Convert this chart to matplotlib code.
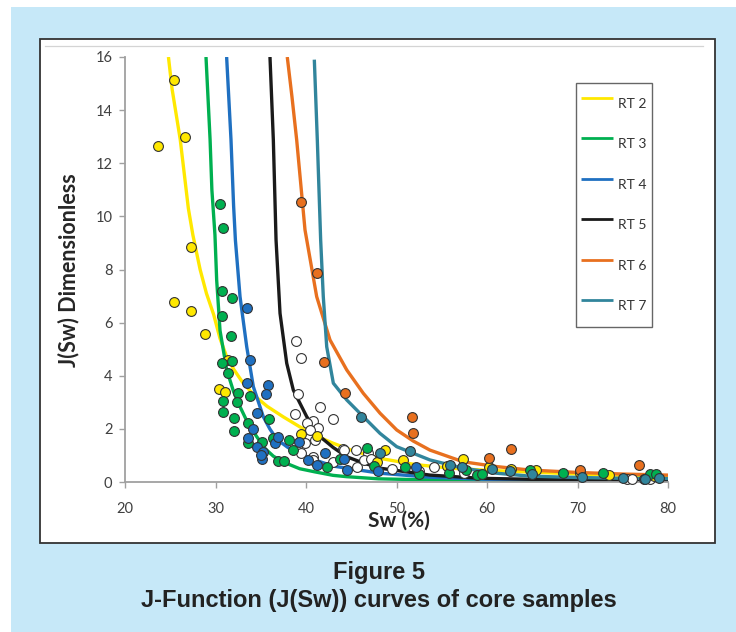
import matplotlib
matplotlib.use("Agg")
import matplotlib.pyplot as plt
from matplotlib.patches import Rectangle
from matplotlib.lines import Line2D

# ---------------- data ----------------
labels = ["RT 2", "RT 3", "RT 4", "RT 5", "RT 6", "RT 7"]
colors = ["#FFE800", "#00B050", "#1F70C1", "#1A1A1A", "#E8701F", "#31859C"]

# fitted J-function curves (Sw %, J)
rt2_sw = [24.8, 25.2, 26.1, 27.0, 27.5, 28.3, 29.0, 29.8, 30.5, 31.2, 32.0, 33.0, 34.3, 35.7, 37.5, 39.3, 41.0, 43.0, 45.0, 48.0, 50.0, 52.0, 56.0, 60.0, 65.0, 70.0, 75.0, 80.0]
rt2_j = [16.0, 14.8, 12.9, 10.3, 9.3, 8.0, 7.1, 6.3, 5.4, 4.75, 4.25, 3.75, 3.25, 2.85, 2.45, 2.08, 1.75, 1.46, 1.2, 0.9, 0.78, 0.66, 0.52, 0.44, 0.37, 0.3, 0.25, 0.2]

rt3_sw = [28.95, 29.4, 29.6, 29.94, 30.13, 30.5, 31.24, 32.0, 32.7, 33.6, 34.55, 35.5, 36.4, 37.1, 38.0, 39.3, 41.0, 43.0, 44.5, 48.0, 52.0, 60.0, 70.0, 80.0]
rt3_j = [16.0, 12.9, 11.0, 9.3, 7.6, 5.7, 4.22, 3.4, 2.84, 2.2, 1.71, 1.25, 0.97, 0.83, 0.68, 0.5, 0.38, 0.25, 0.2, 0.12, 0.09, 0.06, 0.04, 0.03]

rt4_sw = [31.23, 31.71, 32.0, 32.2, 32.71, 33.45, 34.18, 35.28, 36.0, 36.8, 38.0, 39.3, 40.8, 43.0, 44.5, 48.2, 53.7, 60.0, 70.0, 80.0]
rt4_j = [16.0, 12.9, 10.4, 9.1, 6.98, 5.09, 3.59, 2.46, 2.0, 1.6, 1.3, 1.08, 0.85, 0.6, 0.52, 0.33, 0.18, 0.1, 0.07, 0.05]

rt5_sw = [36.02, 36.39, 36.69, 37.13, 37.87, 38.6, 40.08, 41.55, 43.0, 44.5, 46.3, 48.18, 53.7, 59.23, 65.0, 70.0, 80.0]
rt5_j = [16.0, 12.88, 9.11, 6.35, 4.47, 3.46, 2.46, 1.71, 1.3, 0.95, 0.72, 0.52, 0.26, 0.14, 0.1, 0.08, 0.06]

rt6_sw = [37.93, 38.45, 38.97, 39.89, 41.18, 42.65, 44.5, 46.33, 48.18, 50.02, 51.86, 53.7, 57.38, 61.07, 64.75, 70.0, 75.0, 80.0]
rt6_j = [16.0, 14.5, 12.88, 9.49, 6.98, 5.35, 4.22, 3.34, 2.59, 1.96, 1.54, 1.2, 0.76, 0.58, 0.45, 0.36, 0.3, 0.26]

rt7_sw = [40.92, 41.25, 41.62, 41.91, 42.29, 43.02, 44.5, 46.33, 48.18, 50.02, 53.7, 57.38, 61.07, 64.75, 70.0, 75.0, 80.0]
rt7_j = [15.9, 12.88, 9.11, 6.98, 5.09, 3.72, 3.09, 2.46, 1.83, 1.33, 0.83, 0.52, 0.33, 0.22, 0.17, 0.14, 0.13]

# core sample points (Sw %, J)
rt2_pts_sw = [23.7, 25.45, 26.6, 27.3, 25.45, 27.3, 28.8, 30.4, 31.05, 31.4, 39.5, 41.2, 48.7, 50.7, 57.3, 62.7, 65.4, 47.9, 55.6, 60.2, 70.3, 73.5, 78.5]
rt2_pts_j = [12.66, 15.13, 13.0, 8.86, 6.79, 6.45, 5.56, 3.5, 3.38, 4.6, 1.81, 1.74, 1.2, 0.83, 0.85, 0.5, 0.45, 0.75, 0.6, 0.55, 0.35, 0.28, 0.22]

rt3_pts_sw = [30.5, 30.8, 30.68, 31.79, 30.68, 31.71, 30.72, 31.85, 31.35, 32.52, 30.87, 32.33, 33.8, 30.8, 32.08, 33.56, 32.08, 33.63, 35.9, 35.17, 36.4, 38.17, 36.95, 37.6, 38.52, 42.3, 43.76, 46.7, 50.9, 57.7, 64.75, 68.4, 72.8, 78.0, 78.7, 58.9, 59.5, 55.8, 47.5, 52.5]
rt3_pts_j = [10.48, 9.55, 7.2, 6.94, 6.26, 5.51, 4.47, 4.57, 4.12, 3.36, 3.06, 3.0, 3.25, 2.65, 2.4, 2.23, 1.93, 1.46, 2.37, 1.49, 1.64, 1.58, 0.79, 0.79, 1.2, 0.55, 0.85, 1.27, 0.55, 0.45, 0.45, 0.35, 0.33, 0.29, 0.29, 0.26, 0.3, 0.35, 0.6, 0.3]

rt4_pts_sw = [33.48, 33.85, 33.44, 35.84, 35.54, 34.55, 34.1, 33.56, 34.55, 35.28, 35.1, 36.57, 36.9, 39.23, 40.26, 41.17, 42.1, 44.23, 44.5, 48.0, 52.2, 77.3, 35.0]
rt4_pts_j = [6.56, 4.59, 3.74, 3.65, 3.31, 2.61, 1.98, 1.64, 1.33, 1.14, 0.85, 1.46, 1.7, 1.52, 0.83, 0.64, 1.1, 0.87, 0.45, 0.43, 0.58, 0.1, 1.0]

rt6_pts_sw = [39.4, 41.2, 42.0, 44.3, 51.67, 51.8, 62.7, 60.2, 70.3, 76.8]
rt6_pts_j = [10.55, 7.86, 4.51, 3.34, 2.46, 1.83, 1.23, 0.89, 0.45, 0.64]

rt7_pts_sw = [46.1, 51.5, 48.2, 55.9, 57.2, 62.5, 65.0, 70.5, 75.0, 77.5, 79.0, 60.5]
rt7_pts_j = [2.46, 1.18, 1.1, 0.64, 0.55, 0.4, 0.3, 0.2, 0.15, 0.12, 0.15, 0.5]

open_pts_sw = [38.86, 39.45, 39.15, 38.78, 41.55, 42.94, 40.8, 40.07, 41.36, 40.44, 39.9, 41.0, 39.5, 40.8, 42.94, 44.1, 45.5, 46.8, 45.6, 46.4, 54.1, 44.23, 40.8, 47.2, 49.5, 52.5, 57.5, 75.5, 76.0, 78.0]
open_pts_j = [5.32, 4.66, 3.3, 2.56, 2.84, 2.36, 2.31, 2.23, 2.02, 1.96, 1.46, 1.58, 1.08, 0.95, 0.76, 1.24, 1.2, 1.1, 0.58, 0.83, 0.55, 1.2, 0.83, 0.85, 0.5, 0.4, 0.35, 0.1, 0.12, 0.1]

x_ticks = [20, 30, 40, 50, 60, 70, 80]
y_ticks = [0, 2, 4, 6, 8, 10, 12, 14, 16]

# ---------------- figure ----------------
W, H = 736, 632
fig = plt.figure(figsize=(W / 100, H / 100), dpi=100)
fig.patch.set_facecolor("white")

def fx(px):
    return px / W

def fy(py):
    return 1 - py / H

# light-blue panel
fig.patches.append(Rectangle((fx(11), 0), fx(W - 11), 1 - 7 / H, transform=fig.transFigure,
                             facecolor="#C6E8F8", edgecolor="none", zorder=0))
# white chart box
fig.patches.append(Rectangle((fx(39.5), fy(542.5)), fx(715 - 39.5), (542.5 - 38.5) / H,
                             transform=fig.transFigure, facecolor="white", edgecolor="#333333",
                             linewidth=1.3, zorder=1))
fig.lines.append(Line2D([fx(45), fx(703)], [fy(46), fy(46)], transform=fig.transFigure,
                        color="#D4D4D4", linewidth=0.9, zorder=2))

ax = fig.add_axes([fx(125), fy(482), fx(668 - 125), (482 - 57) / H])
ax.set_facecolor("none")
ax.set_zorder(3)

curves = [(rt2_sw, rt2_j), (rt3_sw, rt3_j), (rt4_sw, rt4_j),
          (rt5_sw, rt5_j), (rt6_sw, rt6_j), (rt7_sw, rt7_j)]
handles = []
for (xs, ys), c, lab in zip(curves, colors, labels):
    h, = ax.plot(xs, ys, color=c, linewidth=2.4, solid_capstyle="butt",
                 solid_joinstyle="round", label=lab, zorder=2)
    handles.append(h)

mk = dict(s=50, edgecolors="#333333", linewidths=0.8, zorder=4, clip_on=False)
ax.scatter(open_pts_sw, open_pts_j, facecolors="white", **mk)
ax.scatter(rt2_pts_sw, rt2_pts_j, facecolors=colors[0], **mk)
ax.scatter(rt3_pts_sw, rt3_pts_j, facecolors=colors[1], **mk)
ax.scatter(rt4_pts_sw, rt4_pts_j, facecolors=colors[2], **mk)
ax.scatter(rt6_pts_sw, rt6_pts_j, facecolors=colors[4], **mk)
ax.scatter(rt7_pts_sw, rt7_pts_j, facecolors=colors[5], **mk)

ax.set_xlim(20, 80)
ax.set_ylim(0, 16)
ax.set_xticks(x_ticks)
ax.set_yticks(y_ticks)
ax.set_xticklabels([str(v) for v in x_ticks], fontfamily="Lato", fontsize=10.5, color="#404040")
ax.set_yticklabels([str(v) for v in y_ticks], fontfamily="Lato", fontsize=10.5, color="#404040")
for s in ["top", "right"]:
    ax.spines[s].set_visible(False)
for s in ["left", "bottom"]:
    ax.spines[s].set_color("#A0A0A0")
    ax.spines[s].set_linewidth(1.3)
ax.tick_params(axis="both", direction="out", length=4, width=1.0, color="#A0A0A0")
ax.tick_params(axis="x", pad=10.5)
ax.tick_params(axis="y", pad=5)

leg = ax.legend(handles=handles, loc="upper right", bbox_to_anchor=(0.9705, 0.9395),
                borderaxespad=0, frameon=True, fancybox=False, shadow=False,
                prop={"family": "Lato", "size": 10}, handlelength=2.3, handleheight=3.0,
                handletextpad=0.35, labelspacing=0.72, borderpad=0.4)
leg.get_frame().set_edgecolor("#404040")
leg.get_frame().set_linewidth(1.0)
for t in leg.get_texts():
    t.set_color("#333333")
for ln in leg.get_lines():
    ln.set_linewidth(2.0)

fig.text(fx(69), fy(270), "J(Sw) Dimensionless", rotation=90, ha="center", va="center",
         fontfamily="Lato", fontweight="bold", fontsize=15.5, color="#262626")
fig.text(fx(399), fy(521), "Sw (%)", ha="center", va="center",
         fontfamily="Lato", fontweight="bold", fontsize=15, color="#262626")

fig.text(fx(379), fy(572), "Figure 5", ha="center", va="center",
         fontfamily="Liberation Sans", fontweight="bold", fontsize=17, color="#222222")
fig.text(fx(379), fy(600), "J-Function (J(Sw)) curves of core samples", ha="center", va="center",
         fontfamily="Liberation Sans", fontweight="bold", fontsize=17, color="#222222")

fig.savefig("out.png", dpi=100)
